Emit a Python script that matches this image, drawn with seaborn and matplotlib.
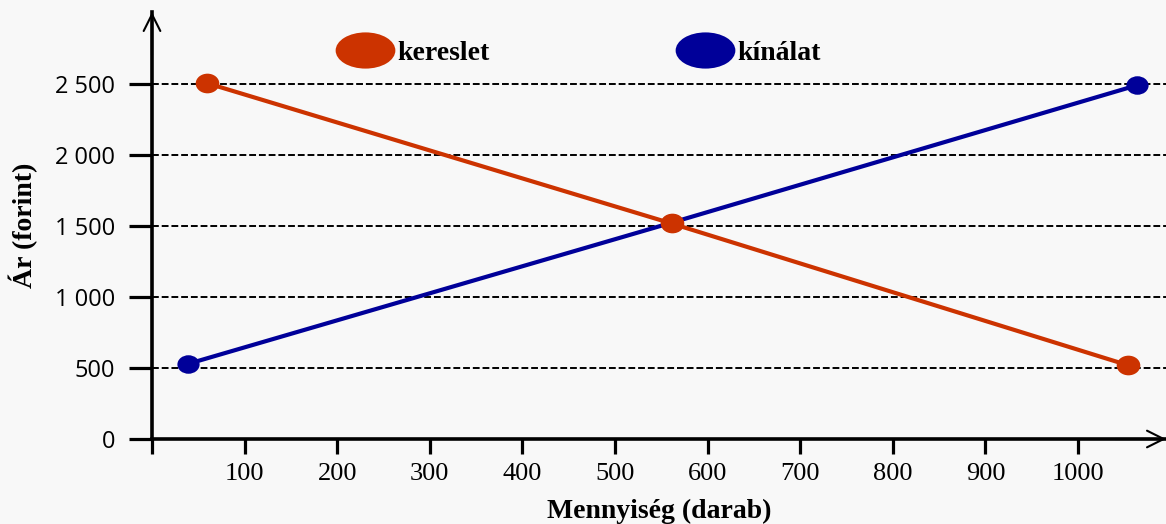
import numpy as np
import pandas as pd
import matplotlib
matplotlib.use("Agg")
import matplotlib.pyplot as plt
from matplotlib.path import Path
from matplotlib.lines import Line2D
import seaborn as sns

# ---- data ----
kereslet_x = [59, 561, 1054]
kereslet_y = [2510, 1520, 520]
kinalat_x = [39, 561, 1064]
kinalat_y = [530, 1525, 2495]
series_names = ["kereslet", "kínálat"]
series_colors = ["#cc3300", "#000099"]
x_ticks = [0, 100, 200, 300, 400, 500, 600, 700, 800, 900, 1000]
x_tick_labels = ["", "100", "200", "300", "400", "500", "600", "700", "800", "900", "1000"]
y_ticks = [0, 500, 1000, 1500, 2000, 2500]
y_tick_labels = ["0", "500", "1 000", "1 500", "2 000", "2 500"]
x_label = "Mennyiség (darab)"
y_label = "Ár (forint)"

sns.set_theme(style="white")
bg = "#f8f8f8"
plt.rcParams["font.family"] = ["Liberation Serif", "DejaVu Serif"]
for k in ["text.color", "axes.labelcolor", "xtick.color", "ytick.color"]:
    plt.rcParams[k] = "black"


def ellipse(ratio):
    c = Path.unit_circle()
    v = c.vertices.copy()
    v[:, 0] *= ratio
    return Path(v, c.codes)


fig = plt.figure(figsize=(11.66, 5.24), dpi=100, facecolor=bg)
ax = fig.add_axes([152 / 1166, 85 / 524, 1 - 152 / 1166, (439 - 12) / 524])
ax.set_facecolor(bg)

df_d = pd.DataFrame({"x": kereslet_x, "y": kereslet_y})
df_s = pd.DataFrame({"x": kinalat_x, "y": kinalat_y})
mk = ellipse(1.2)
sns.lineplot(data=df_s, x="x", y="y", ax=ax, color=series_colors[1], lw=3,
             marker=mk, markersize=16, markeredgewidth=0, zorder=4)
sns.lineplot(data=df_d, x="x", y="y", ax=ax, color=series_colors[0], lw=3,
             marker=mk, markersize=17, markeredgewidth=0, zorder=5)

ax.set_xlim(0, 1095)
ax.set_ylim(0, 3011)
ax.set_xticks(x_ticks)
ax.set_xticklabels(x_tick_labels, fontsize=19, family="Liberation Serif")
ax.set_yticks(y_ticks)
ax.set_yticklabels(y_tick_labels, fontsize=17, family="Open Sans")
ax.tick_params(axis="x", direction="out", length=11, width=2.3, color="black",
               labelcolor="black", pad=6, bottom=True)
ax.tick_params(axis="y", direction="out", length=16.5, width=2.3, color="black",
               labelcolor="black", pad=10, left=True)

ax.grid(axis="y", color="black", linestyle=(0, (3.5, 1.5)), linewidth=1.4, zorder=1)
ax.grid(axis="x", visible=False)
ax.set_axisbelow(True)

for s in ["top", "right"]:
    ax.spines[s].set_visible(False)
for s in ["left", "bottom"]:
    ax.spines[s].set_color("black")
    ax.spines[s].set_linewidth(2.6)
    ax.spines[s].set_zorder(6)

ax.annotate("", xy=(0, 1.0), xytext=(0, 0.9), xycoords="axes fraction",
            arrowprops=dict(arrowstyle="->,head_length=0.6,head_width=0.3",
                            lw=1.5, color="black", mutation_scale=20,
                            shrinkA=0, shrinkB=0), annotation_clip=False)
ax.annotate("", xy=(1.0, 0), xytext=(0.95, 0), xycoords="axes fraction",
            arrowprops=dict(arrowstyle="->,head_length=0.6,head_width=0.3",
                            lw=1.5, color="black", mutation_scale=20,
                            shrinkA=0, shrinkB=0), annotation_clip=False)

ax.set_xlabel(x_label, fontsize=20, fontweight="bold", family="Liberation Serif",
              labelpad=10, color="black")
ax.set_ylabel(y_label, fontsize=20, fontweight="bold", family="Liberation Serif",
              labelpad=12, color="black")

lg_mk = ellipse(1.65)
handles = [Line2D([], [], ls="none", marker=lg_mk, markersize=43, markeredgewidth=0,
                  color=c) for c in series_colors]
leg = ax.legend(handles, series_names, ncol=2, loc="center", bbox_to_anchor=(0.419, 0.903),
                frameon=False, handletextpad=0.0, columnspacing=6.6, handlelength=2.3,
                labelcolor="black",
                prop={"family": "Liberation Serif", "weight": "bold", "size": 20})

fig.savefig("out.png", dpi=100, facecolor=bg)
